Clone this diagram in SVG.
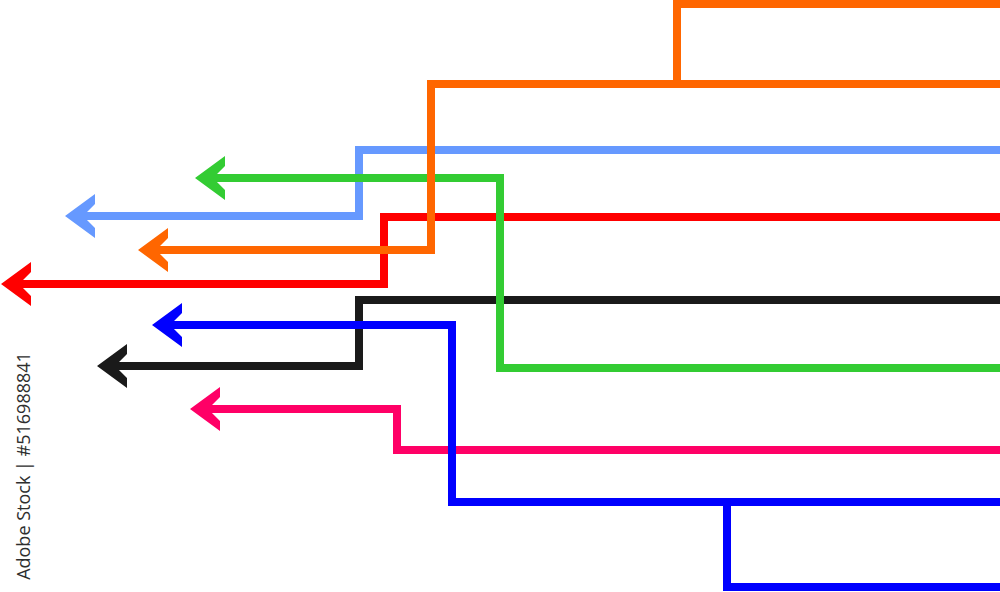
<svg xmlns="http://www.w3.org/2000/svg" width="1000" height="592" viewBox="0 0 1000 592">
<style>
.ln{fill:none;stroke-width:8;stroke-linejoin:miter;stroke-linecap:butt}
.wm{font-family:"Open Sans","DejaVu Sans",sans-serif;font-size:18px;fill:#2e2e2e}
</style>
<defs>
<marker id="ah-lb" markerUnits="userSpaceOnUse" viewBox="-20 -25 40 50" markerWidth="40" markerHeight="50" refX="0" refY="0" orient="auto" overflow="visible"><path d="M16,0 L-14,-22 L-14,-12 L-2,0 L-14,12 L-14,22 Z" fill="#6699FF"/></marker>
<marker id="ah-r" markerUnits="userSpaceOnUse" viewBox="-20 -25 40 50" markerWidth="40" markerHeight="50" refX="0" refY="0" orient="auto" overflow="visible"><path d="M16,0 L-14,-22 L-14,-12 L-2,0 L-14,12 L-14,22 Z" fill="#FF0000"/></marker>
<marker id="ah-k" markerUnits="userSpaceOnUse" viewBox="-20 -25 40 50" markerWidth="40" markerHeight="50" refX="0" refY="0" orient="auto" overflow="visible"><path d="M16,0 L-14,-22 L-14,-12 L-2,0 L-14,12 L-14,22 Z" fill="#1a1a1a"/></marker>
<marker id="ah-p" markerUnits="userSpaceOnUse" viewBox="-20 -25 40 50" markerWidth="40" markerHeight="50" refX="0" refY="0" orient="auto" overflow="visible"><path d="M16,0 L-14,-22 L-14,-12 L-2,0 L-14,12 L-14,22 Z" fill="#FF0066"/></marker>
<marker id="ah-g" markerUnits="userSpaceOnUse" viewBox="-20 -25 40 50" markerWidth="40" markerHeight="50" refX="0" refY="0" orient="auto" overflow="visible"><path d="M16,0 L-14,-22 L-14,-12 L-2,0 L-14,12 L-14,22 Z" fill="#33CC33"/></marker>
<marker id="ah-b" markerUnits="userSpaceOnUse" viewBox="-20 -25 40 50" markerWidth="40" markerHeight="50" refX="0" refY="0" orient="auto" overflow="visible"><path d="M16,0 L-14,-22 L-14,-12 L-2,0 L-14,12 L-14,22 Z" fill="#0000FF"/></marker>
<marker id="ah-o" markerUnits="userSpaceOnUse" viewBox="-20 -25 40 50" markerWidth="40" markerHeight="50" refX="0" refY="0" orient="auto" overflow="visible"><path d="M16,0 L-14,-22 L-14,-12 L-2,0 L-14,12 L-14,22 Z" fill="#FF6600"/></marker>
</defs>
<rect width="1000" height="592" fill="#ffffff"/>
<g id="connectors">
<path id="light-blue" class="ln" stroke="#6699FF" d="M1000,150 H359 V216 H81" marker-end="url(#ah-lb)"/>
<path id="red" class="ln" stroke="#FF0000" d="M1000,217 H384 V284 H17" marker-end="url(#ah-r)"/>
<path id="black" class="ln" stroke="#1a1a1a" d="M1000,300 H359 V366 H113" marker-end="url(#ah-k)"/>
<path id="pink" class="ln" stroke="#FF0066" d="M1000,450 H397 V409 H206" marker-end="url(#ah-p)"/>
<path id="green" class="ln" stroke="#33CC33" d="M1000,368 H500 V178 H211" marker-end="url(#ah-g)"/>
<path id="blue-branch" class="ln" stroke="#0000FF" d="M1000,587 H727 V502"/>
<path id="blue" class="ln" stroke="#0000FF" d="M1000,502 H452 V325 H168" marker-end="url(#ah-b)"/>
<path id="orange-branch" class="ln" stroke="#FF6600" d="M1000,4 H677 V84"/>
<path id="orange" class="ln" stroke="#FF6600" d="M1000,84 H431 V250 H154" marker-end="url(#ah-o)"/>
</g>
<text class="wm" transform="translate(30,466) rotate(-90)" text-anchor="middle">Adobe Stock | #516988841</text>
</svg>
